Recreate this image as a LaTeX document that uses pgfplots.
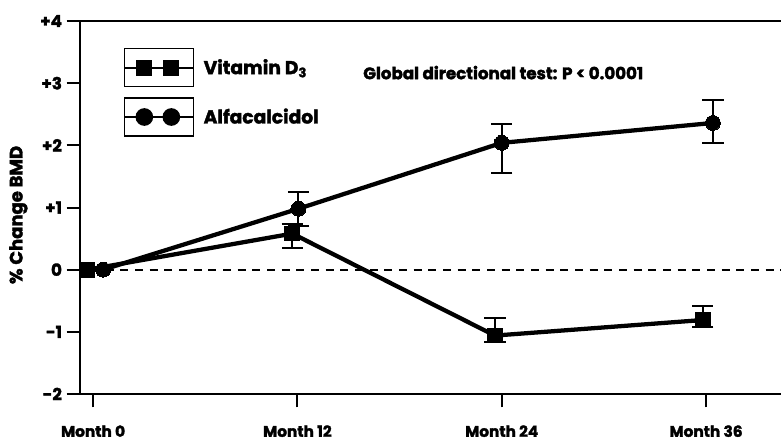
\documentclass[border=0pt]{standalone}
\usepackage{fontspec}
\setmainfont{Poppins}[BoldFeatures={FakeBold=2}]
\usepackage{pgfplots}
\pgfplotsset{compat=1.18}
\pgfplotstableread{
x y ep em
-0.32 0 0 0
11.7 0.58 0.16 0.23
23.6 -1.06 0.29 0.11
35.8 -0.81 0.23 0.12
}\vitd
\pgfplotstableread{
x y ep em
0.59 0 0 0
12.06 0.98 0.27 0.27
24.0 2.04 0.31 0.48
36.4 2.36 0.37 0.33
}\alfa
\begin{document}
\begin{tikzpicture}
\begin{axis}[
 name=ax,
 scale only axis,
 width=525.75pt, height=279.75pt,
 xmin=-0.77, xmax=40.4,
 ymin=-2, ymax=4,
 axis x line=box, axis y line=left,
 axis line style={-, line width=1.6pt, black},
 xtick={0,12,24,36},
 xticklabels={Month 0, Month 12, Month 24, Month 36},
 ytick={-2,-1,0,1,2,3,4},
 yticklabels={-2,-1,0,+1,+2,+3,+4},
 xtick pos=bottom, ytick pos=left,
 tick align=outside,
 major tick length=10pt,
 tick style={line width=1.5pt, black},
 /pgf/number format/assume math mode=true,
 ticklabel style={font=\bfseries\fontsize{11.5}{13}\selectfont},
 yticklabel style={font=\bfseries\fontsize{12.5}{14}\selectfont},
 xticklabel style={yshift=-10pt},
 ylabel={\% Change BMD},
 ylabel style={at={(axis description cs:-0.088,0.48)}, anchor=center, font=\bfseries\fontsize{13.5}{15}\selectfont},
 legend cell align=left,
 legend style={at={(axis cs:1.76,3.57)}, anchor=north west, draw=none, fill=none, inner sep=0pt, row sep=7.5pt, column sep=5pt, font=\bfseries\fontsize{14}{16}\selectfont},
 clip=false,
]
% error bars
\addplot[forget plot, only marks, mark=none, black,
  error bars/.cd, y dir=both, y explicit, error mark=-,
  error bar style={line width=1.5pt, black},
  error mark options={rotate=90, mark size=8pt, line width=1.5pt, black}]
  table[x=x, y=y, y error plus=ep, y error minus=em] {\vitd};
\addplot[forget plot, only marks, mark=none, black,
  error bars/.cd, y dir=both, y explicit, error mark=-,
  error bar style={line width=1.5pt, black},
  error mark options={rotate=90, mark size=8pt, line width=1.5pt, black}]
  table[x=x, y=y, y error plus=ep, y error minus=em] {\alfa};
% zero line
\addplot[forget plot, black, line width=1.5pt, dash pattern=on 6pt off 5pt] coordinates {(1.6,0) (40.4,0)};
% series
\addplot[black, line width=3.2pt, mark=square*, mark size=5.5pt, mark options={solid, line width=0pt},
  legend image code/.code={
   \draw[line width=1pt, black, fill=white] (0pt,-14.25pt) rectangle (51.75pt,14.25pt);
   \draw[line width=1.5pt, black] (0pt,0pt) -- (51.75pt,0pt);
   \fill[black] (10.5pt,-4.5pt) rectangle (19.5pt,4.5pt);
   \fill[black] (30.75pt,-4.5pt) rectangle (39.75pt,4.5pt);
  }] table[x=x, y=y] {\vitd};
\addlegendentry{Vitamin D\textsubscript{3}}
\addplot[black, line width=3.2pt, mark=*, mark size=5.6pt, mark options={solid, line width=0pt},
  legend image code/.code={
   \draw[line width=1pt, black, fill=white] (0pt,-14.25pt) rectangle (51.75pt,14.25pt);
   \draw[line width=1.5pt, black] (0pt,0pt) -- (51.75pt,0pt);
   \fill[black] (15pt,0pt) circle (5pt);
   \fill[black] (35.25pt,0pt) circle (5pt);
  }] table[x=x, y=y] {\alfa};
\addlegendentry{Alfacalcidol}
\node[anchor=west, font=\bfseries\fontsize{12.5}{15}\selectfont, inner sep=0pt] at (axis cs:15.85,3.17) {Global directional test: P < 0.0001};
\end{axis}
\pgfresetboundingbox
\path[use as bounding box] ([shift={(-60pt,-36.75pt)}]ax.south west) rectangle ([shift={(0pt,15.75pt)}]ax.north east);
\end{tikzpicture}
\end{document}
